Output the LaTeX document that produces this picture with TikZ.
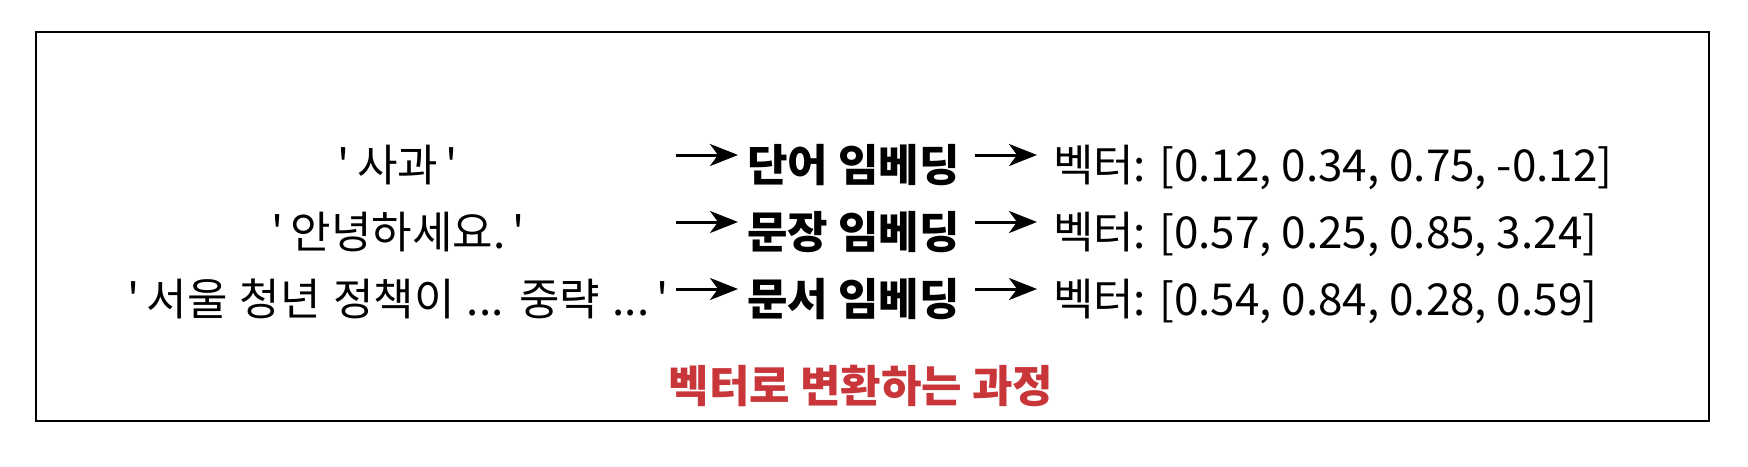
\documentclass[tikz,border=0pt]{standalone}
\usepackage{fontspec}
\setmainfont{Noto Sans CJK KR}[Ligatures=TeXOff]
\usetikzlibrary{arrows.meta}
\definecolor{titlered}{HTML}{C8363A}
\tikzset{
  txt/.style={inner sep=0pt, outer sep=0pt, anchor=base, font=\fontsize{22}{26}\selectfont},
  embtxt/.style={txt, anchor=base west, font=\fontsize{22}{26}\selectfont\bfseries},
  vectxt/.style={txt, anchor=base west},
  conn/.style={line width=1.5pt, -{Stealth[length=14pt,width=11pt,inset=4pt]}},
  frame/.style={draw, line width=0.6pt}
}
\begin{document}
\begin{tikzpicture}[x=0.5pt,y=-0.5pt]
\useasboundingbox (0,0) rectangle (1748,466);
\draw[frame] (36,32) rectangle (1709,421);
% sources
\node[txt] (s1) at (398,181) {'\,사과\,'};
\node[txt] (s2) at (398,248) {'\,안녕하세요.\,'};
\node[txt] (s3) at (398,315) {\spaceskip=0.28em '\,서울 청년 정책이 ... 중략 ...\,'};
% arrow starts
\coordinate (a1) at (676,155);
\coordinate (a2) at (676,222);
\coordinate (a3) at (676,289);
% embeddings
\node[embtxt] (e1) at (747,181) {단어 임베딩};
\node[embtxt] (e2) at (747,248) {문장 임베딩};
\node[embtxt] (e3) at (747,315) {문서 임베딩};
% vectors
\node[vectxt] (v1) at (1053,181) {벡터: [0.12, 0.34, 0.75, -0.12]};
\node[vectxt] (v2) at (1053,248) {벡터: [0.57, 0.25, 0.85, 3.24]};
\node[vectxt] (v3) at (1053,315) {벡터: [0.54, 0.84, 0.28, 0.59]};
% connectors
\draw[conn, shorten >=4.5pt] (a1) -- (e1.west |- a1);
\draw[conn, shorten >=4.5pt] (a2) -- (e2.west |- a2);
\draw[conn, shorten >=4.5pt] (a3) -- (e3.west |- a3);
\draw[conn, shorten <=8pt, shorten >=8pt] (e1.east |- a1) -- (v1.west |- a1);
\draw[conn, shorten <=8pt, shorten >=8pt] (e2.east |- a2) -- (v2.west |- a2);
\draw[conn, shorten <=8pt, shorten >=8pt] (e3.east |- a3) -- (v3.west |- a3);
% title
\node[txt, font=\fontsize{22}{26}\selectfont\bfseries, text=titlered] (title) at (861,402) {벡터로 변환하는 과정};
\end{tikzpicture}
\end{document}
